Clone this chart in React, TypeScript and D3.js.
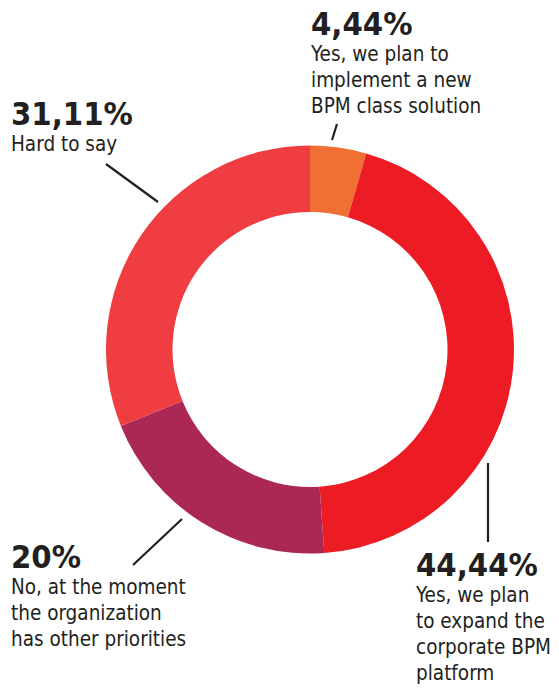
import React from "react";
import * as d3 from "d3";

const categories = [
  "Yes, we plan to implement a new BPM class solution",
  "Yes, we plan to expand the corporate BPM platform",
  "No, at the moment the organization has other priorities",
  "Hard to say",
];
const values = [4.44, 44.44, 20, 31.11];
const valueLabels = ["4,44%", "44,44%", "20%", "31,11%"];
const labelLines = [
  ["Yes, we plan to", "implement a new", "BPM class solution"],
  ["Yes, we plan", "to expand the", "corporate BPM", "platform"],
  ["No, at the moment", "the organization", "has other priorities"],
  ["Hard to say"],
];
const colors = ["#F07034", "#ED1C24", "#AB2756", "#EF3D41"];

// annotation layout (label anchor + leader line)
const layout = [
  { x: 311, y: 35, line: [[337, 124], [332, 140]] },
  { x: 416, y: 576, line: [[488, 463], [488, 542]] },
  { x: 11, y: 568, line: [[182, 519], [133, 565]] },
  { x: 11, y: 125, line: [[158, 202], [106, 164]] },
];

const W = 559;
const H = 688;
const CX = 310;
const CY = 349.5;
const R_OUT = 204;
const R_IN = 137.5;
const FONT = "'DejaVu Sans Condensed', 'Liberation Sans Narrow', sans-serif";

export default function App() {
  const pie = d3
    .pie<number>()
    .sort(null)
    .startAngle(0)
    .endAngle(2 * Math.PI)
    .value((d) => d);
  const arcs = pie(values);
  const arc = d3.arc<d3.PieArcDatum<number>>().innerRadius(R_IN).outerRadius(R_OUT);
  const line = d3.line();

  return (
    <svg
      width={W}
      height={H}
      style={{ position: "absolute", left: 0, top: 0, background: "#fff" }}
    >
      <g transform={`translate(${CX},${CY})`}>
        {arcs.map((a, i) => (
          <path key={categories[i]} d={arc(a) || ""} fill={colors[i]} />
        ))}
      </g>
      {layout.map((l, i) => (
        <g key={i}>
          <path
            d={line(l.line as [number, number][]) || ""}
            stroke="#231F20"
            strokeWidth={2.2}
            fill="none"
          />
          <text
            x={l.x}
            y={l.y}
            fontFamily={FONT}
            fontWeight="bold"
            fontSize={32.5}
            fill="#231F20"
          >
            {valueLabels[i]}
          </text>
          {labelLines[i].map((t, j) => (
            <text
              key={j}
              x={l.x}
              y={l.y + 26 + j * 26}
              fontFamily={FONT}
              fontSize={20.5}
              fill="#231F20"
            >
              {t}
            </text>
          ))}
        </g>
      ))}
    </svg>
  );
}
